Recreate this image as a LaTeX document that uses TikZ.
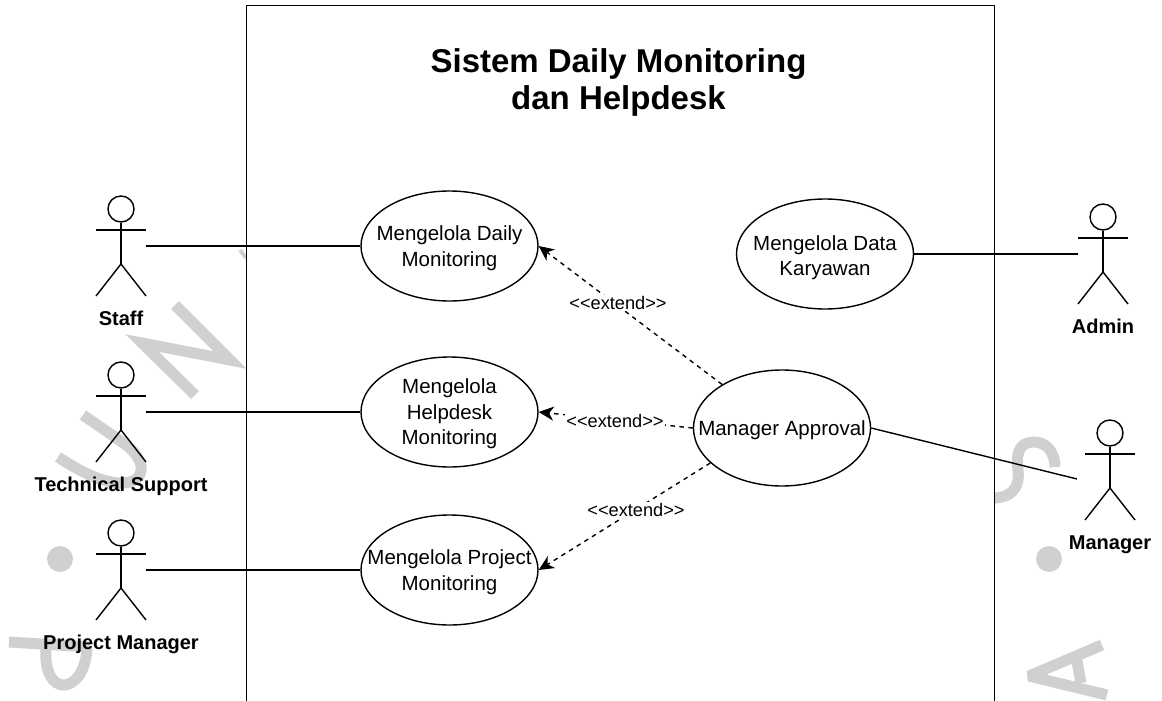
\documentclass[tikz,border=0pt]{standalone}
\usepackage{fontspec}
\setmainfont{Liberation Sans}
\usetikzlibrary{shapes.geometric,arrows.meta}
\definecolor{wm}{HTML}{D0D0D0}
\tikzset{
  ln/.style={line width=1.4pt,draw=black},
  usecase/.style={ellipse,ln,fill=white,minimum width=177pt,minimum height=110pt,inner sep=0pt},
  uctext/.style={font=\fontsize{20.5}{25.5}\selectfont,align=center,inner sep=0pt,yshift=-2pt},
  actorlabel/.style={font=\fontsize{20}{24}\selectfont\bfseries,inner sep=0pt,anchor=base},
  headshape/.style={circle,ln,minimum size=26pt,inner sep=0pt},
  assoc/.style={ln},
  ext/.style={ln,dash pattern=on 4.5pt off 4.5pt,-{Stealth[length=15pt,width=14pt,inset=4.5pt]}},
  extlabel/.style={font=\fontsize{18.2}{20}\selectfont,fill=white,inner sep=1pt},
  wmline/.style={draw=wm,line width=11pt},
}
\newcommand{\actorfig}[4]{%
  \begin{scope}[shift={(#2,#3)}]
    \node[headshape] (#1head) at (0,0) {};
    \coordinate (#1hip) at (0,55);
    \coordinate (#1armL) at (-25,21);
    \coordinate (#1armR) at (25,21);
    \coordinate (#1footL) at (-25,87);
    \coordinate (#1footR) at (25,87);
    \draw[ln] (#1head.south) -- (#1hip);
    \draw[ln] (#1armL) -- (#1armR);
    \draw[ln] (#1footL) -- (#1hip) -- (#1footR);
    \node[actorlabel] (#1label) at (0,116) {#4};
  \end{scope}}
\begin{document}
\begin{tikzpicture}[x=1pt,y=-1pt]
\useasboundingbox (0,0) rectangle (1162,701);
% watermark
\draw[wmline,line join=miter] (195,395) -- (142,343) -- (230,360) -- (175,305);
\draw[wmline] (83,415) -- (122,442) .. controls (150,461) and (145,483) .. (122,483) .. controls (108,483) and (90,478) .. (58,457);
\fill[wm] (60,559) circle (13);
\draw[wmline] (9,642) -- (90,647);
\draw[wmline] (46,647) .. controls (42,700) and (85,695) .. (87,648);
\draw[wmline] (985,498) .. controls (1012,500) and (1020,488) .. (1018,470) .. controls (1015,450) and (1022,442) .. (1034,442) .. controls (1046,442) and (1055,452) .. (1055,467);
\fill[wm] (1049,559) circle (13);
\draw[wmline,line join=bevel] (1102,645) -- (1029,676) -- (1107,695);
\draw[wmline] (1076,656) -- (1081,683);
\draw[draw=wm,line width=4pt] (240,250) -- (246,258);
% system box
\node[draw=black,line width=1.4pt,fill=white,minimum width=747.5pt,minimum height=760pt,inner sep=0pt,anchor=north west] (sys) at (246,5) {};
\fill[white] (240,701) rectangle (1000,740);
\node[font=\fontsize{33}{37}\selectfont\bfseries,align=center,inner sep=0pt] (title) at (618.5,82.5) {Sistem Daily Monitoring\\dan Helpdesk};
% use cases
\node[usecase,label={[uctext]center:{Mengelola Daily\\Monitoring}}] (daily) at (449.5,246) {};
\node[usecase,label={[uctext]center:{Mengelola\\Helpdesk\\Monitoring}}] (help) at (449.5,412) {};
\node[usecase,label={[uctext]center:{Mengelola Project\\Monitoring}}] (proj) at (449.5,570) {};
\node[usecase,label={[uctext,yshift=-1.5pt]center:{Mengelola Data\\Karyawan}}] (data) at (825,254) {};
\node[usecase,minimum height=116pt,label={[uctext]center:{Manager Approval}}] (appr) at (782,428) {};
% actors
\actorfig{staff}{121}{209}{Staff}
\actorfig{tech}{121}{375}{Technical Support}
\actorfig{pm}{121}{533}{Project Manager}
\actorfig{admin}{1103}{217}{Admin}
\actorfig{mgr}{1110}{433}{Manager}
\coordinate (staffend) at (146,246);
\coordinate (techend) at (146,412);
\coordinate (pmend) at (146,570);
\coordinate (adminend) at (1078,254);
\coordinate (mgrend) at (1077,479);
\draw[assoc] (staffend) -- (daily.west);
\draw[assoc] (techend) -- (help.west);
\draw[assoc] (pmend) -- (proj.west);
\draw[assoc] (data.east) -- (adminend);
\draw[assoc] (appr.east) -- (mgrend);
% extend
\draw[ext] (appr.144) -- (daily.east);
\draw[ext] (appr.west) -- (help.east);
\draw[ext] (appr.206) -- (proj.east);
\node[extlabel] (e1) at (618,303) {<{}<extend>{}>};
\node[extlabel] (e2) at (615,421) {<{}<extend>{}>};
\node[extlabel] (e3) at (636,510) {<{}<extend>{}>};
\end{tikzpicture}
\end{document}
